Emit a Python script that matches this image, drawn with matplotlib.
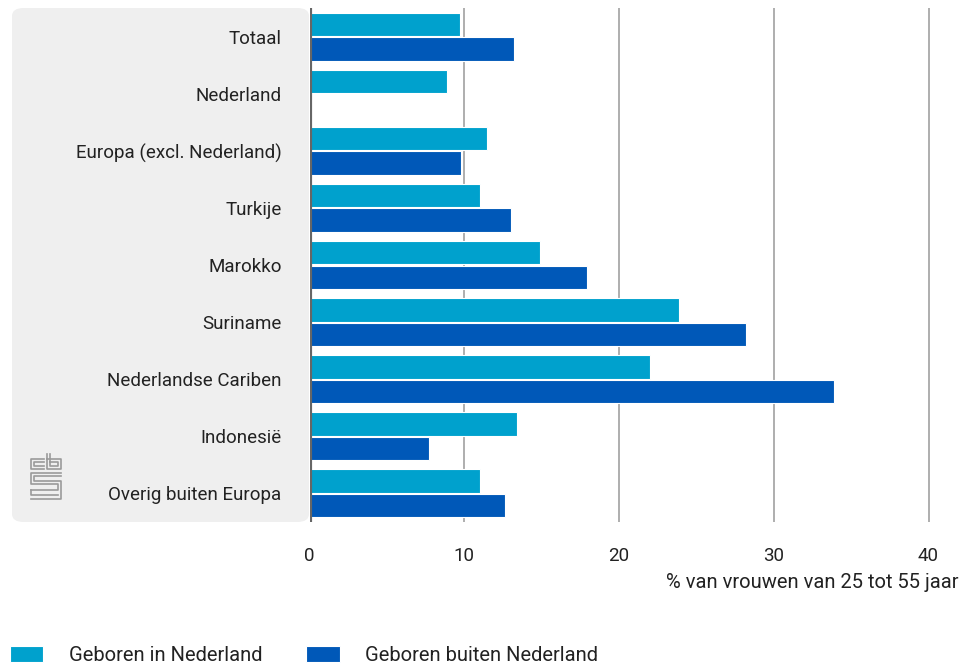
import matplotlib.pyplot as plt
import numpy as np
from matplotlib.patches import FancyBboxPatch
from matplotlib.lines import Line2D

plt.rcParams['font.family'] = ['Roboto', 'DejaVu Sans']

# data
categories = ['Totaal', 'Nederland', 'Europa (excl. Nederland)', 'Turkije', 'Marokko',
              'Suriname', 'Nederlandse Cariben', 'Indonesië', 'Overig buiten Europa']
geboren_in_nl = [9.7, 8.9, 11.5, 11.0, 14.9, 23.9, 22.0, 13.4, 11.0]
geboren_buiten_nl = [13.2, np.nan, 9.8, 13.0, 17.9, 28.2, 33.9, 7.7, 12.6]
xticks = [0, 10, 20, 30, 40]
xlabel = '% van vrouwen van 25 tot 55 jaar'
legend_labels = ['Geboren in Nederland', 'Geboren buiten Nederland']

light = '#00a1cd'
dark = '#0058b8'
W, H = 968, 666
fs = 13.5

fig = plt.figure(figsize=(W / 100, H / 100), dpi=100)

# grey label panel
panel = FancyBboxPatch((12 / W, 1 - 522 / H), (309 - 12) / W, (522 - 8) / H,
                       boxstyle='round,pad=0,rounding_size=0.012',
                       transform=fig.transFigure, facecolor='#efefef',
                       edgecolor='none', zorder=-5)
fig.patches.append(panel)

ax = fig.add_axes([309.5 / W, 1 - 522 / H, 650 / W, 514 / H])
ax.set_facecolor('none')

y = np.arange(len(categories))
ax.barh(y - 0.215, geboren_in_nl, height=0.41, color=light, edgecolor='white',
        linewidth=0.8, label=legend_labels[0], zorder=3)
ax.barh(y + 0.215, geboren_buiten_nl, height=0.41, color=dark, edgecolor='white',
        linewidth=0.8, label=legend_labels[1], zorder=3)

ax.set_xlim(0, 42)
ax.set_ylim(len(categories) - 0.5, -0.5)
ax.set_yticks(y)
ax.set_yticklabels(categories, fontsize=fs, color='#222222')
ax.set_xticks(xticks)
ax.set_xticklabels([str(t) for t in xticks], fontsize=fs, color='#222222')
ax.tick_params(axis='y', length=0, pad=20)
ax.tick_params(axis='x', length=0, pad=18)

for t in xticks[1:]:
    ax.axvline(t, color='#999999', linewidth=1.1, zorder=1)
ax.axvline(0, color='#666666', linewidth=3, zorder=4)

for s in ax.spines.values():
    s.set_visible(False)

fig.text(958 / W, 1 - 582 / H, xlabel, ha='right', va='center', fontsize=14.5,
         color='#222222')

fig.legend(loc='lower left', bbox_to_anchor=(-8 / W, -17 / H), ncol=2, frameon=False,
           fontsize=14.5, handlelength=1.65, handleheight=0.85, handletextpad=1.25,
           columnspacing=2.2, labelcolor='#222222')

# cbs logo (simple line drawing)
lc = '#9a9a9a'
def seg(xs, ys):
    fig.add_artist(Line2D([x / W for x in xs], [1 - v / H for v in ys],
                          color=lc, linewidth=1.2, transform=fig.transFigure))
# "c"
seg([44, 31, 31, 44], [459, 459, 469, 469])
seg([44, 34, 34, 44], [462, 462, 466, 466])
# "b"
seg([47, 47, 61, 61, 47], [454, 469, 469, 459, 459])
seg([50, 50, 58, 58, 50], [454, 466, 466, 462, 462])
# "s"
seg([61, 31, 31, 58, 58, 31], [473, 473, 484, 484, 490, 490])
seg([61, 34, 34, 61, 61, 31], [476, 476, 481, 481, 499, 499])
seg([31, 31, 58], [490, 495, 495])

fig.savefig('out.png', dpi=100)
